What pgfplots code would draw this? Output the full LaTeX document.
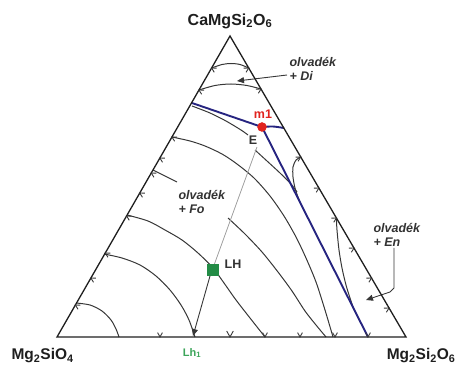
\documentclass[border=0pt]{standalone}
\usepackage{fontspec}
\setmainfont{Liberation Sans}
\usepackage{pgfplots}
\pgfplotsset{compat=1.18}
\usetikzlibrary{arrows.meta}
\definecolor{labc}{RGB}{30,30,30}
\definecolor{isoc}{RGB}{55,55,55}
\definecolor{triblue}{RGB}{38,36,128}
\definecolor{tiec}{RGB}{160,160,160}
\definecolor{dotred}{RGB}{225,35,30}
\definecolor{sqgreen}{RGB}{35,140,70}
\definecolor{lhgreen}{RGB}{60,165,90}
\definecolor{txtc}{RGB}{50,50,50}
\pgfdeclareplotmark{vB}{%
  \pgfpathmoveto{\pgfqpoint{-2.4pt}{4.4pt}}%
  \pgfpathlineto{\pgfqpoint{0pt}{0pt}}%
  \pgfpathlineto{\pgfqpoint{2.4pt}{4.4pt}}%
  \pgfusepathqstroke}
\pgfdeclareplotmark{vBig}{%
  \pgfpathmoveto{\pgfqpoint{-3.3pt}{6pt}}%
  \pgfpathlineto{\pgfqpoint{0pt}{0pt}}%
  \pgfpathlineto{\pgfqpoint{3.3pt}{6pt}}%
  \pgfusepathqstroke}
\pgfdeclareplotmark{vL}{\pgftransformrotate{-120}\pgfuseplotmark{vB}}
\pgfdeclareplotmark{vR}{\pgftransformrotate{120}\pgfuseplotmark{vB}}
\pgfplotsset{
  iso/.style={draw=isoc, line width=1pt, smooth, no markers},
  blu/.style={draw=triblue, line width=1.9pt, no markers},
  tk/.style={only marks, draw=isoc, line width=0.9pt},
}
\begin{document}
\begin{tikzpicture}
\begin{axis}[width=459pt,height=365pt,scale only axis,
  xmin=0,xmax=459,ymin=0,ymax=365,y dir=reverse,
  axis lines=none,clip=false]
\path[draw=none] (axis cs:0,0) rectangle (axis cs:459,365);
% isotherms
\addplot[iso] coordinates {(76,303)(90,305)(102,311)(111,320)(116,329)(119,337)};
\addplot[iso] coordinates {(104,254)(122,258)(140,265)(156,276)(170,290)(181,305)(189,320)(195,337)};
\addplot[iso] coordinates {(127,215)(148,221)(165,230)(182,240)(198,253)(213,268)(224,283)(236,300)(250,318)(265,337)};
\addplot[iso] coordinates {(153,170)(165,176)(177,182)};
\addplot[iso] coordinates {(228,218)(245,234)(262,252)(278,272)(292,291)(305,311)(316,325)(326,337)};
\addplot[iso] coordinates {(172,137)(190,141)(205,146)(222,154)(237,164)(254,178)(270,196)(284,216)(296,237)(306,258)(316,282)(325,310)(333,337)};
\addplot[iso] coordinates {(192,106)(210,113)(226,121)(241,130)(248,135)};
\addplot[iso] coordinates {(255,150)(267,161)(280,173)(291,184)(297,192)};
\addplot[iso] coordinates {(300.7,157)(296,160)(293,167)(293,177)(295,188)(298,197)(300,202)};
\addplot[iso] coordinates {(336.4,219)(337,230)(339,250)(342,268)(346,285)(350,298)(354,310)};
\addplot[iso] coordinates {(211.6,68)(222,64.5)(231,63.5)(240,64.5)(248.7,68)};
\addplot[iso] coordinates {(199,90)(215,85.5)(231,84)(247,85.5)(261,89)};
% tie line and arrows
\addplot[draw=tiec, line width=0.8pt, no markers] coordinates {(257,147)(213,268)};
\addplot[draw=isoc, line width=0.9pt, no markers, -{Triangle[length=7pt,width=6pt]}] coordinates {(210,276)(193,336)};
\addplot[draw=isoc, line width=0.9pt, no markers, smooth, -{Triangle[length=7pt,width=6pt]}] coordinates {(287,75)(262,78)(237,81)};
\addplot[draw=isoc, line width=0.9pt, no markers, -{Triangle[length=7pt,width=6pt]}] coordinates {(394,248)(394,288)(390,292)(366,300)};
% blue cotectic
\addplot[blu] coordinates {(192,103)(262,127)};
\addplot[blu, smooth] coordinates {(262,127)(273,126.5)(284,128)};
\addplot[blu] coordinates {(262,127)(368,337)};
% triangle
\addplot[draw=labc, line width=1.3pt, no markers, line join=miter] coordinates {(57,337)(230,36)(406,337)(57,337)(230,36)};
% edge ticks
\addplot[tk, mark=vL] coordinates {(211.6,68)(199,90)(172,137)(159.9,158)(151.3,173)(139.8,193)(126.6,216)(105.3,253)(90.9,278)(75.4,305)};
\addplot[tk, mark=vR] coordinates {(248.7,68)(261,89)(300.7,157)(318.9,188)(336.4,218)(354,248)(371.5,278)(389,308)};
\addplot[tk, mark=vB] coordinates {(160,337)(265,337)(300,337)(335,337)(368,337)};
\addplot[tk, mark=vBig] coordinates {(230,337)};
% points
\addplot[only marks, mark=*, mark size=4.5pt, color=dotred] coordinates {(262,127)};
\addplot[only marks, mark=square*, mark size=5.5pt, color=sqgreen] coordinates {(213,270)};
% labels
\node[font=\bfseries\fontsize{16}{18}\selectfont, text=labc] at (axis cs:230,21) {CaMgSi\textsubscript{2}O\textsubscript{6}};
\node[anchor=west, font=\bfseries\fontsize{15.5}{18}\selectfont, text=labc] at (axis cs:8,356) {Mg\textsubscript{2}SiO\textsubscript{4}};
\node[anchor=east, font=\bfseries\fontsize{15.5}{18}\selectfont, text=labc] at (axis cs:459,356) {Mg\textsubscript{2}Si\textsubscript{2}O\textsubscript{6}};
\node[font=\bfseries\fontsize{11}{13}\selectfont, text=lhgreen] at (axis cs:192,353) {Lh\textsubscript{1}};
\node[font=\bfseries\fontsize{12.5}{14}\selectfont, text=dotred] at (axis cs:263,114) {m1};
\node[font=\bfseries\fontsize{12.5}{14}\selectfont, text=txtc] at (axis cs:253,140) {E};
\node[font=\bfseries\fontsize{12.5}{14}\selectfont, text=txtc] at (axis cs:233,264) {LH};
\node[anchor=west, font=\bfseries\itshape\fontsize{12.5}{14}\selectfont, text=txtc] at (axis cs:286,62) {olvadék};
\node[anchor=west, font=\bfseries\itshape\fontsize{12.5}{14}\selectfont, text=txtc] at (axis cs:286,76) {+ Di};
\node[anchor=west, font=\bfseries\itshape\fontsize{12.5}{14}\selectfont, text=txtc] at (axis cs:175,195) {olvadék};
\node[anchor=west, font=\bfseries\itshape\fontsize{12.5}{14}\selectfont, text=txtc] at (axis cs:175,209) {+ Fo};
\node[anchor=west, font=\bfseries\itshape\fontsize{12.5}{14}\selectfont, text=txtc] at (axis cs:370,228) {olvadék};
\node[anchor=west, font=\bfseries\itshape\fontsize{12.5}{14}\selectfont, text=txtc] at (axis cs:370,242) {+ En};
\end{axis}
\end{tikzpicture}
\end{document}
